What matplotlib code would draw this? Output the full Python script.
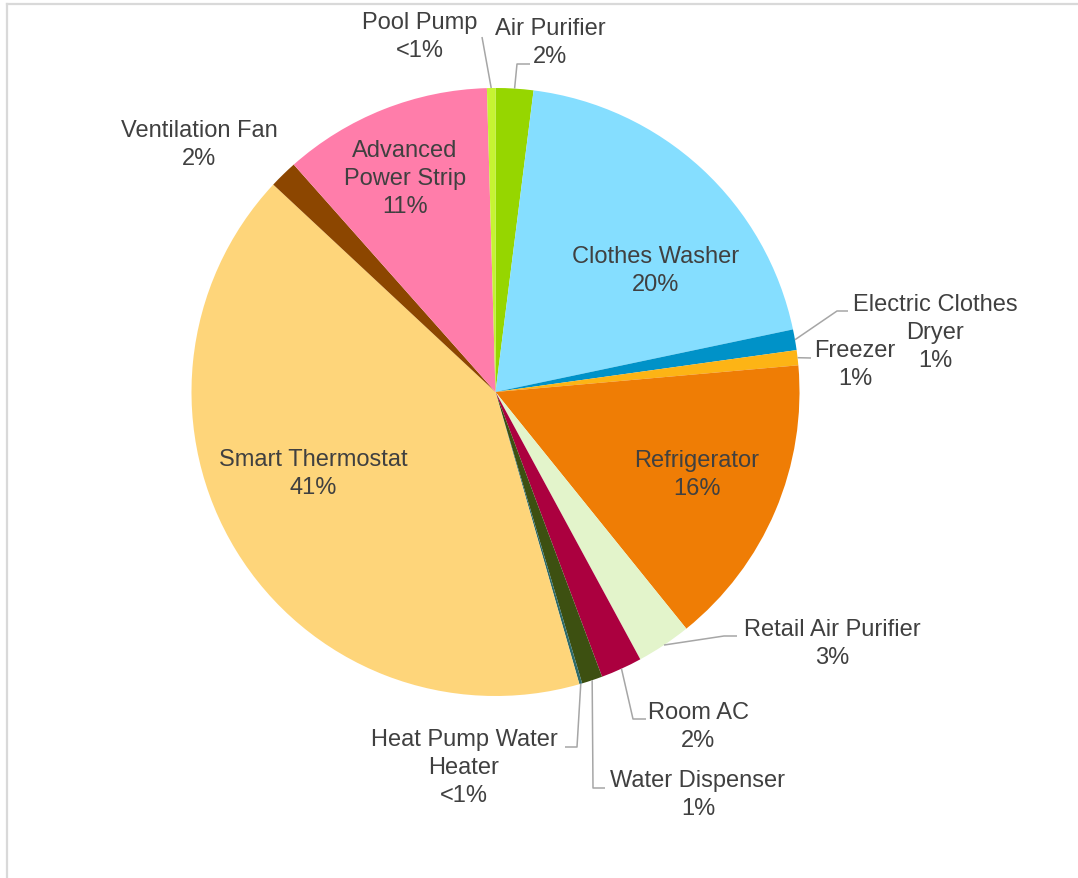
import numpy as np
import matplotlib
matplotlib.use("Agg")
import matplotlib.pyplot as plt

# ---- data (clockwise from 12 o'clock) ----
categories = ["Air Purifier", "Clothes Washer", "Electric Clothes\nDryer", "Freezer",
              "Refrigerator", "Retail Air Purifier", "Room AC", "Water Dispenser",
              "Heat Pump Water\nHeater", "Smart Thermostat", "Ventilation Fan",
              "Advanced\nPower Strip", "Pool Pump"]
shares = [2.0, 19.7, 1.1, 0.8, 15.6, 2.9, 2.2, 1.1, 0.15, 41.4, 1.5, 11.1, 0.45]
colors = ["#96D600", "#85DEFF", "#0092C8", "#FDB415", "#EF7D05", "#E3F4CB", "#AB003F",
          "#3D5011", "#2E6B6B", "#FED57A", "#8C4600", "#FF7DAA", "#C6F432"]

def pct_label(v):
    return "<1%" if v < 0.5 else f"{round(v):d}%"

W, H = 1078, 879
fig = plt.figure(figsize=(W / 100, H / 100), dpi=100)
ax = fig.add_axes([0, 0, 1, 1])

cx, cy, R = 495.5, 393, 304
wedges, _ = ax.pie(shares, colors=colors, startangle=-90, counterclock=True,
                   center=(cx, cy), radius=R, wedgeprops=dict(linewidth=0),
                   normalize=True)
ax.set_xlim(0, W)
ax.set_ylim(H, 0)
ax.set_aspect("auto")
ax.axis("off")

font = dict(family=["Liberation Sans", "DejaVu Sans"], size=17, color="#404040",
            ha="center", va="center")
line_kw = dict(color="#A6A6A6", lw=1.1, solid_capstyle="butt", clip_on=False)
PITCH = 28  # pixel distance between label lines

def arc_point(i):
    w = wedges[i]
    m = np.deg2rad((w.theta1 + w.theta2) / 2)
    return cx + R * np.cos(m), cy + R * np.sin(m)

def draw_label(i, x, y):
    lines = categories[i].split("\n") + [pct_label(shares[i])]
    n = len(lines)
    for k, s in enumerate(lines):
        ax.text(x, y + (k - (n - 1) / 2) * PITCH, s, **font)

# label layout: index -> (text centre, leader path points before arc point)
inside = {1: (656, 271), 4: (697, 475), 9: (313, 474), 11: (405, 179)}
outside = {
    0: ((550, 43), [(530, 65), (517, 65)]),
    2: ((935, 333), [(848, 312), (837, 312)]),
    3: ((855, 365), [(811, 359)]),
    5: ((832, 644), [(737, 637), (724, 637)]),
    6: ((698, 727), [(646, 720), (633, 720)]),
    7: ((698, 795), [(605, 789), (593, 789)]),
    8: ((464, 768), [(565, 748), (577, 748)]),
    10: ((199, 145), None),
    12: ((420, 37), [(482, 38)]),
}

for i, (x, y) in inside.items():
    draw_label(i, x, y)

for i, ((x, y), path) in outside.items():
    draw_label(i, x, y)
    if path:
        px, py = arc_point(i)
        xs = [p[0] for p in path] + [px]
        ys = [p[1] for p in path] + [py]
        ax.plot(xs, ys, **line_kw)

# chart frame (top and left edges visible)
ax.plot([7, W], [5, 5], color="#D9D9D9", lw=1.6, clip_on=False)
ax.plot([7, 7], [5, H], color="#D9D9D9", lw=1.6, clip_on=False)

fig.savefig("out.png", dpi=100)
